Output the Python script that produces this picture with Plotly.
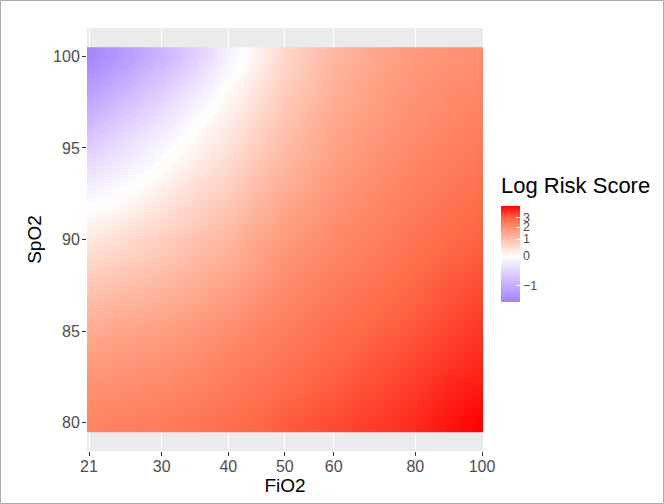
import numpy as np
import plotly.graph_objects as go

# ---------------- data ----------------
FIO2 = [21, 25, 30, 35, 40, 45, 50, 60, 70, 80, 90, 100]
SPO2 = list(range(80, 101))

# Log risk score, one row per SpO2 value (80 ... 100), columns follow FIO2
LOG_RISK = [
    [2.19, 2.29, 2.40, 2.56, 2.73, 2.90, 3.08, 3.32, 3.58, 3.86, 4.22, 4.60],   # 80
    [2.05, 2.14, 2.24, 2.40, 2.56, 2.73, 2.96, 3.20, 3.45, 3.72, 4.07, 4.37],   # 81
    [1.90, 2.00, 2.09, 2.24, 2.40, 2.61, 2.78, 3.08, 3.32, 3.58, 3.93, 4.15],   # 82
    [1.72, 1.81, 1.95, 2.09, 2.29, 2.45, 2.67, 2.96, 3.20, 3.45, 3.72, 3.96],   # 83
    [1.55, 1.68, 1.77, 1.95, 2.14, 2.35, 2.50, 2.84, 3.08, 3.32, 3.58, 3.79],   # 84
    [1.34, 1.51, 1.63, 1.81, 2.00, 2.19, 2.40, 2.73, 2.96, 3.20, 3.45, 3.65],   # 85
    [1.15, 1.30, 1.42, 1.63, 1.81, 2.05, 2.24, 2.61, 2.84, 3.08, 3.32, 3.52],   # 86
    [0.93, 1.07, 1.22, 1.42, 1.63, 1.90, 2.09, 2.45, 2.73, 2.96, 3.20, 3.39],   # 87
    [0.73, 0.86, 1.04, 1.26, 1.46, 1.72, 2.00, 2.35, 2.56, 2.84, 3.08, 3.26],   # 88
    [0.51, 0.66, 0.86, 1.07, 1.30, 1.59, 1.86, 2.19, 2.45, 2.73, 2.96, 3.14],   # 89
    [0.31, 0.48, 0.70, 0.93, 1.15, 1.46, 1.72, 2.09, 2.35, 2.61, 2.84, 3.02],   # 90
    [0.12, 0.28, 0.51, 0.76, 0.97, 1.30, 1.59, 2.00, 2.24, 2.50, 2.73, 2.90],   # 91
    [-0.07, 0.07, 0.34, 0.60, 0.83, 1.15, 1.42, 1.86, 2.14, 2.40, 2.61, 2.78],  # 92
    [-0.27, -0.09, 0.17, 0.45, 0.66, 1.00, 1.30, 1.77, 2.05, 2.29, 2.50, 2.67], # 93
    [-0.46, -0.27, 0.02, 0.28, 0.54, 0.86, 1.15, 1.63, 1.95, 2.19, 2.40, 2.56], # 94
    [-0.65, -0.43, -0.12, 0.15, 0.39, 0.73, 1.04, 1.55, 1.86, 2.09, 2.29, 2.45],# 95
    [-0.83, -0.60, -0.31, 0.05, 0.30, 0.62, 0.93, 1.46, 1.77, 2.00, 2.19, 2.35],   # 96
    [-0.99, -0.77, -0.48, -0.12, 0.17, 0.50, 0.85, 1.38, 1.68, 1.95, 2.09, 2.24],  # 97
    [-1.11, -0.91, -0.64, -0.30, 0.08, 0.40, 0.75, 1.26, 1.63, 1.86, 2.05, 2.14],  # 98
    [-1.21, -1.05, -0.79, -0.48, -0.08, 0.28, 0.66, 1.19, 1.55, 1.81, 1.95, 2.05], # 99
    [-1.29, -1.15, -0.93, -0.64, -0.22, 0.18, 0.58, 1.11, 1.46, 1.72, 1.86, 1.95], # 100
]

FIO2_TICKS = [21, 30, 40, 50, 60, 80, 100]
SPO2_TICKS = [80, 85, 90, 95, 100]
LEGEND_TICKS = [-1, 0, 1, 2, 3]
LEGEND_LABELS = ["\u22121", "0", "1", "2", "3"]
LEGEND_RANGE = [-1.33, 4.6]


# ---------------- scales ----------------
def x_scale(v):
    return np.log(np.asarray(v, dtype=float) + 20.0)


def fill_scale(v):
    return np.log(np.asarray(v, dtype=float) + 2.0)


zmin, zmax = fill_scale(LEGEND_RANGE)
p_white = float((fill_scale(0) - zmin) / (zmax - zmin))

blue_side = ["#9F80FF", "#BB9FFF", "#D3BEFF", "#EADEFF", "#FFFFFF"]
red_side = ["#FFFFFF", "#FFCFBF", "#FF9E81", "#FF6846", "#FF0000"]
colorscale = []
for i, c in enumerate(blue_side):
    colorscale.append([p_white * i / 4, c])
for i, c in enumerate(red_side[1:], start=1):
    colorscale.append([p_white + (1 - p_white) * i / 4, c])

# ---------------- figure ----------------
W, H = 664, 504
ML, MR, MT, MB = 87, 181, 28, 53
PW, PH = W - ML - MR, H - MT - MB
FONT = "Liberation Sans, Arial, sans-serif"

fig = go.Figure()
fig.add_trace(go.Heatmap(
    x=x_scale(FIO2),
    y=SPO2,
    z=fill_scale(LOG_RISK),
    zmin=float(zmin), zmax=float(zmax),
    colorscale=colorscale,
    zsmooth="best",
    hoverinfo="skip",
    colorbar=dict(
        x=(501 - ML) / PW, xanchor="left", xpad=0,
        y=(H - MB - 254) / PH, yanchor="middle", ypad=0,
        len=96, lenmode="pixels",
        thickness=19, thicknessmode="pixels",
        outlinewidth=0,
        tickvals=fill_scale(LEGEND_TICKS),
        ticktext=LEGEND_LABELS,
        ticks="inside", ticklen=4, tickcolor="white", tickwidth=1,
        tickfont=dict(size=12.5, color="#4D4D4D", family=FONT),
    ),
))

tick_font = dict(size=16, color="#4D4D4D", family=FONT)
title_font = dict(size=19, color="black", family=FONT)

fig.update_xaxes(
    range=[float(x_scale(21)) - 0.0055, float(x_scale(100)) + 0.0027],
    tickvals=x_scale(FIO2_TICKS),
    ticktext=[str(v) for v in FIO2_TICKS],
    showgrid=True, gridcolor="white", gridwidth=1.2,
    zeroline=False, showline=False,
    ticks="outside", ticklen=4, tickwidth=1.1, tickcolor="#333333",
    tickfont=tick_font, ticklabelstandoff=-3,
    title=dict(text="FiO2", font=title_font, standoff=4),
)
fig.update_yaxes(
    range=[78.45, 101.55],
    tickvals=SPO2_TICKS,
    ticktext=[str(v) for v in SPO2_TICKS],
    showgrid=True, gridcolor="white", gridwidth=1.2,
    zeroline=False, showline=False,
    ticks="outside", ticklen=4, tickwidth=1.1, tickcolor="#333333",
    tickfont=tick_font, ticklabelstandoff=-1,
    title=dict(text="SpO2", font=title_font, standoff=6),
)

fig.add_annotation(
    text="Log Risk Score", showarrow=False,
    xref="paper", yref="paper",
    x=(499 - ML) / PW, xanchor="left",
    y=(H - MB - 185) / PH, yanchor="middle",
    font=dict(size=22, color="black", family=FONT),
)

# thin frame around the whole image
fig.add_shape(
    type="rect", xref="paper", yref="paper",
    x0=(0.5 - ML) / PW, x1=(W - 0.5 - ML) / PW,
    y0=(H - MB - (H - 0.5)) / PH, y1=(H - MB - 0.5) / PH,
    line=dict(color="#AAAAAA", width=1), layer="above",
)

fig.update_layout(
    width=W, height=H,
    margin=dict(l=ML, r=MR, t=MT, b=MB, autoexpand=False),
    paper_bgcolor="white", plot_bgcolor="#EBEBEB",
    font=dict(family=FONT, color="#4D4D4D"),
    showlegend=False,
)

fig.write_html(
    "out.html",
    config={"displayModeBar": False},
    post_script="document.body.style.margin='0px';",
)
